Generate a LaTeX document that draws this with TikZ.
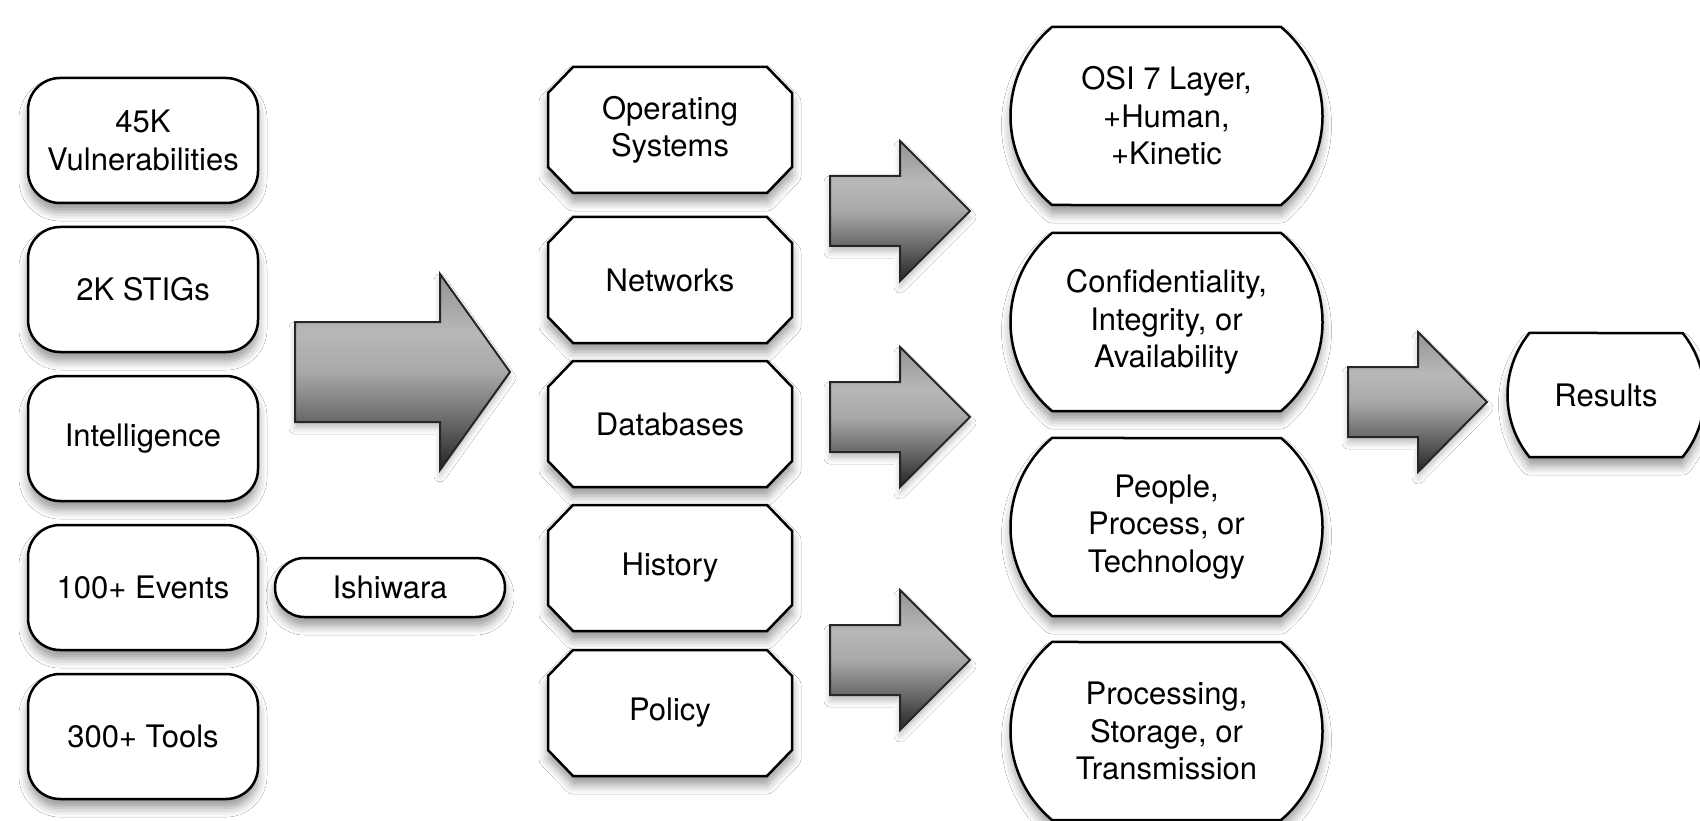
\documentclass[tikz,border=0pt]{standalone}
\usepackage{fontspec}
\setmainfont{TeX Gyre Heros}
\usetikzlibrary{shapes.misc,shadows.blur}
\pgfdeclareverticalshading{arrowshade}{100bp}{%
  color(0bp)=(black!86); color(25bp)=(black!86); color(38bp)=(black!58);
  color(50bp)=(black!34); color(60bp)=(black!28); color(75bp)=(black!42); color(100bp)=(black!42)}
\tikzset{
  shadowed/.style={blur shadow={shadow xshift=0pt, shadow yshift=-9pt, shadow blur radius=9pt, shadow opacity=40}},
  txt/.style={align=center, inner sep=0pt, font=\fontsize{31}{37.5}\selectfont},
  base/.style={txt, draw=black, line width=2.5pt, fill=white, shadowed},
  leftbox/.style={base, rectangle, rounded corners=32pt, minimum width=230pt, minimum height=125pt},
  octtext/.style={txt, rectangle, minimum width=244pt, minimum height=126pt},
  octshape/.style={draw=black, line width=2.5pt, fill=white, line join=miter, shadowed},
  bigbox/.style={base, rounded rectangle, rounded rectangle arc length=100, minimum width=312pt, minimum height=178pt},
  resbox/.style={base, rounded rectangle, rounded rectangle arc length=78, minimum width=182pt, minimum height=124pt},
  pillbox/.style={base, rounded rectangle, minimum width=230pt, minimum height=59pt},
  fatarrow/.style={draw=black!85, line width=2pt, line join=miter, shading=arrowshade,
    blur shadow={shadow xshift=0pt, shadow yshift=-6pt, shadow blur radius=6pt, shadow opacity=25}},
}
% \fatarr{x0}{xhead}{xtip}{ycenter}{shaft half}{head half}
\newcommand{\fatarr}[6]{%
  \path[fatarrow] (#1,#4-#5) -- (#2,#4-#5) -- (#2,#4-#6) -- (#3,#4) -- (#2,#4+#6) -- (#2,#4+#5) -- (#1,#4+#5) -- cycle;}
% \octnode{name}{x}{y}{text}: octagon with a named text node on it
\newcommand{\octnode}[4]{%
  \path[octshape] (#2-97,#3-63) -- (#2+97,#3-63) -- (#2+122,#3-37) -- (#2+122,#3+37)
    -- (#2+97,#3+63) -- (#2-97,#3+63) -- (#2-122,#3+37) -- (#2-122,#3-37) -- cycle;
  \node[octtext] (#1) at (#2,#3) {#4};}
\begin{document}
\begin{tikzpicture}[x=1pt,y=-1pt]
\fill[white] (0,0) rectangle (1700,821);
\useasboundingbox (0,0) rectangle (1700,821);

% left column
\node[leftbox] (vuln)   at (143,140.5) {45K\\Vulnerabilities};
\node[leftbox] (stigs)  at (143,289.5) {2K STIGs};
\node[leftbox] (intel)  at (143,438.5) {Intelligence};
\node[leftbox] (events) at (143,587.5) {100+ Events};
\node[leftbox] (tools)  at (143,736.5) {300+ Tools};
\node[pillbox] (ishi)   at (390,587.5) {Ishiwara};

% middle column
\octnode{os}{670}{130}{Operating\\Systems}
\octnode{net}{670}{280}{Networks}
\octnode{db}{670}{424}{Databases}
\octnode{hist}{670}{568}{History}
\octnode{pol}{670}{713}{Policy}

% right column
\node[bigbox] (osi)  at (1166.5,116) {OSI 7 Layer,\\+Human,\\+Kinetic};
\node[bigbox] (cia)  at (1166.5,322) {Confidentiality,\\Integrity, or\\Availability};
\node[bigbox] (ppt)  at (1166.5,527) {People,\\Process, or\\Technology};
\node[bigbox] (pst)  at (1166.5,731) {Processing,\\Storage, or\\Transmission};

\node[resbox] (res) at (1606,395) {Results};

% arrows
\fatarr{295}{440}{510}{372}{50}{98}
\fatarr{830}{900}{970}{211}{35}{70}
\fatarr{830}{900}{970}{417}{35}{70}
\fatarr{830}{900}{970}{660}{35}{70}
\fatarr{1348}{1418}{1487}{402}{35}{70}
\end{tikzpicture}
\end{document}
